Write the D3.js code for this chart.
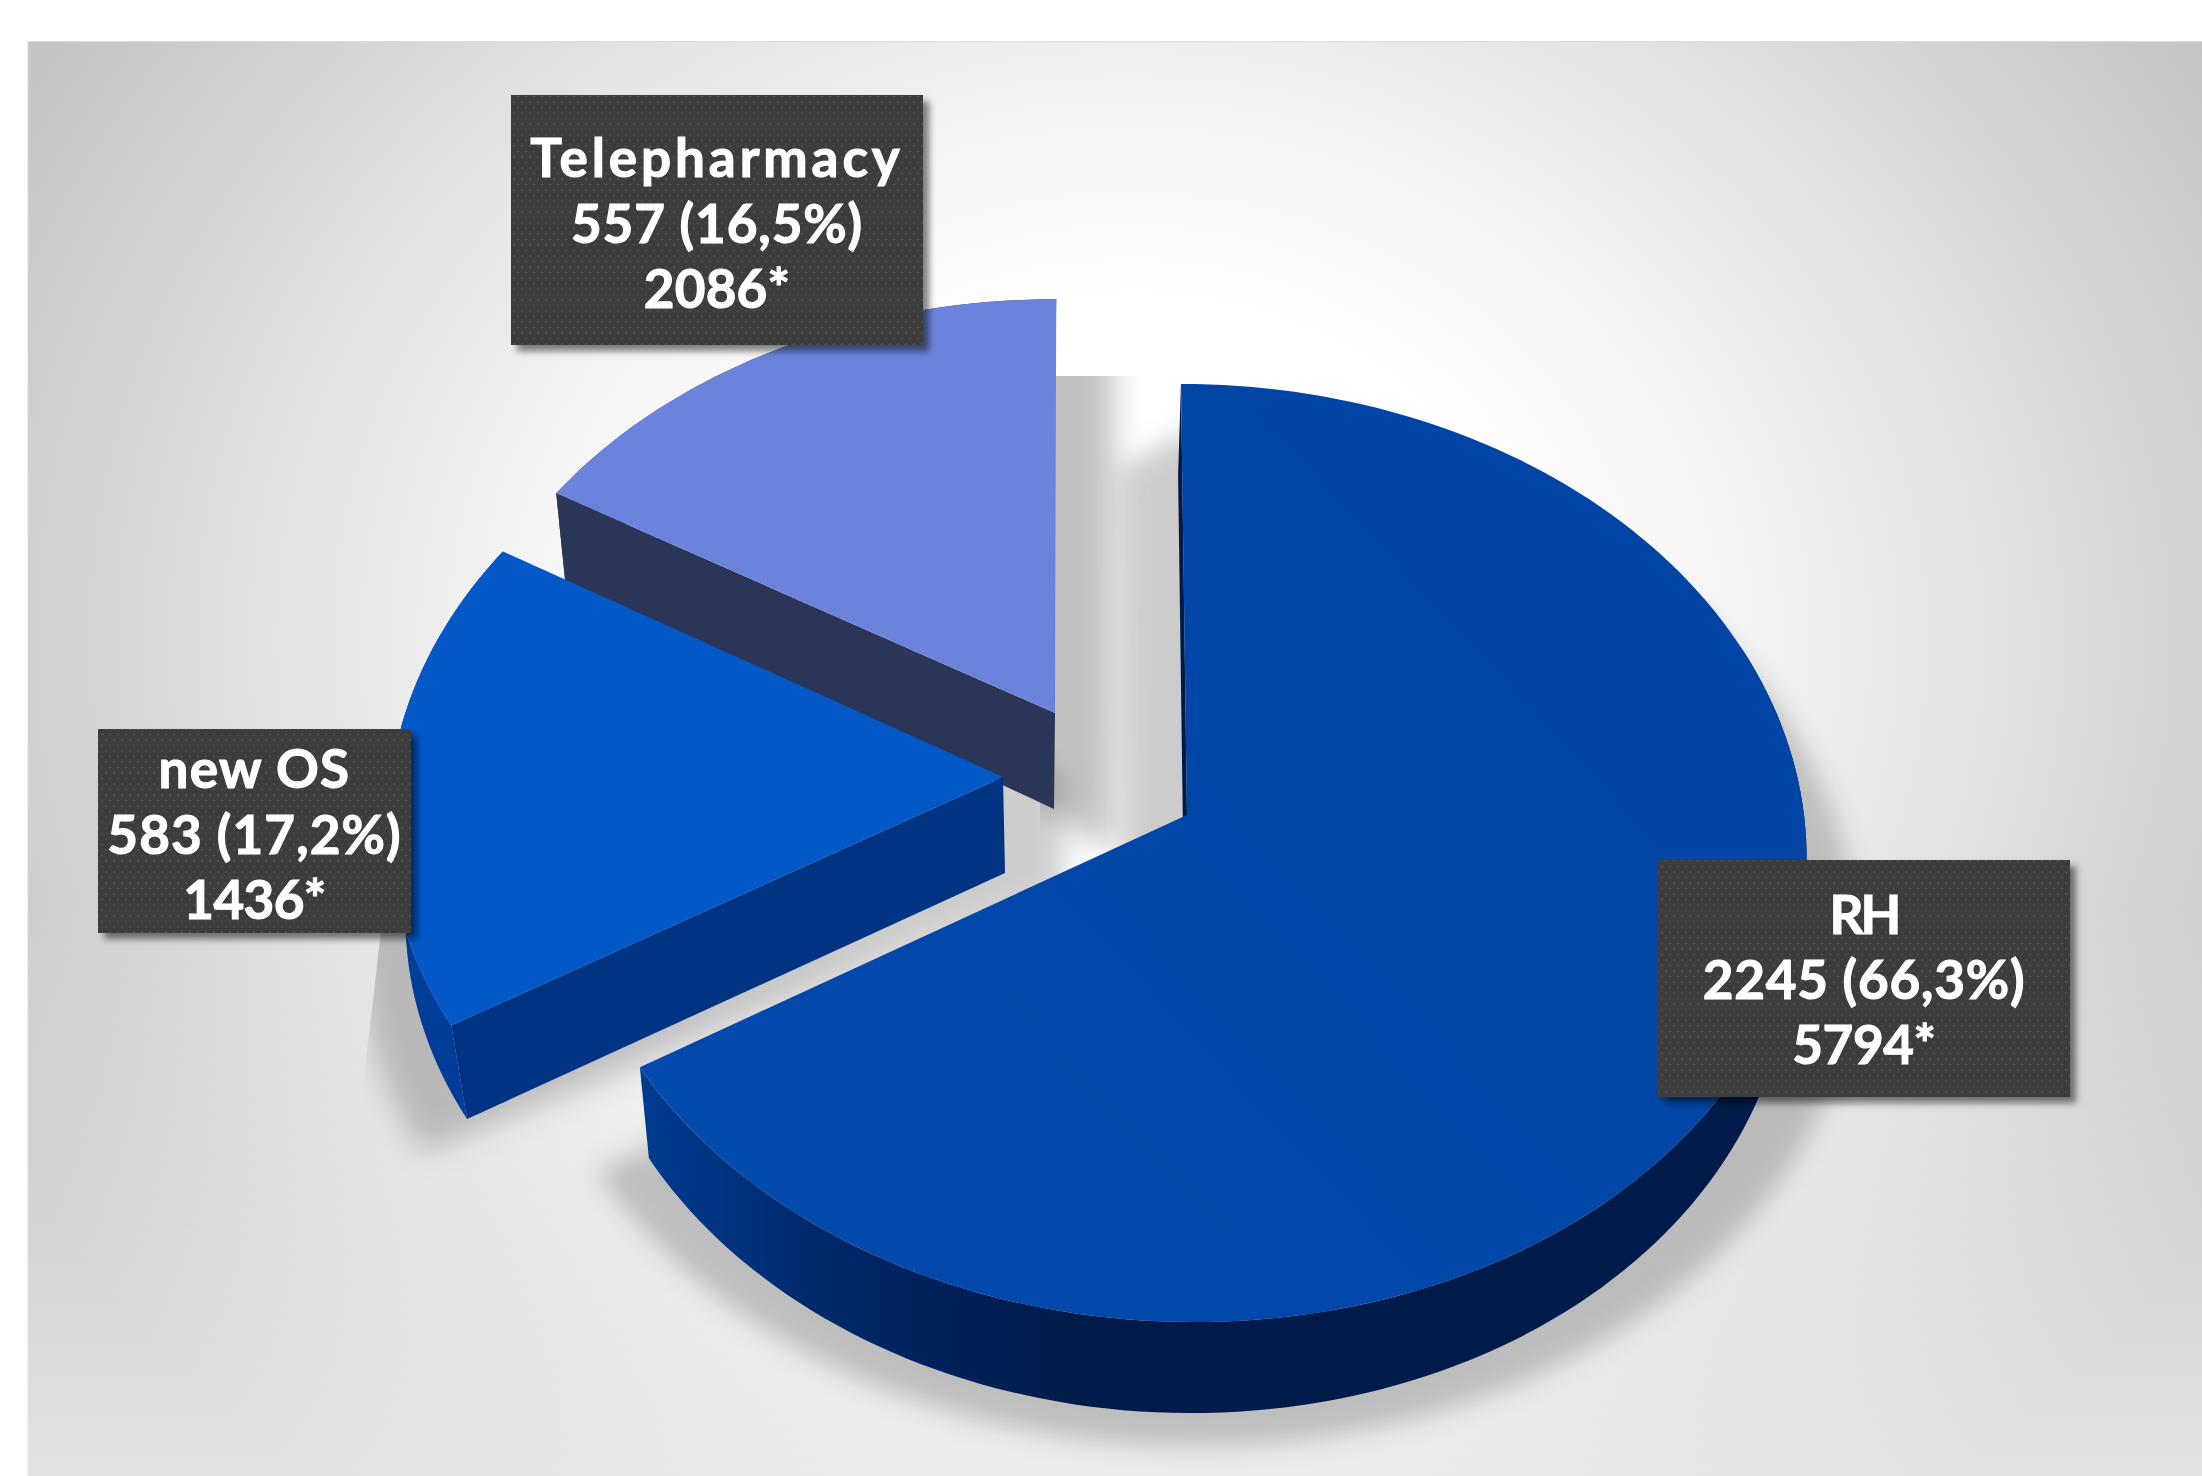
<!DOCTYPE html>
<html lang="en">
<head>
<meta charset="utf-8">
<title>Patients by service</title>
<script src="https://cdn.jsdelivr.net/npm/d3@7"></script>
<style>
  html, body { margin: 0; padding: 0; background: #fff; }
  svg { display: block; }
  .box-text { font-family: Lato, "Open Sans", sans-serif; font-weight: 700; font-size: 53px; fill: #fff; stroke: #fff; stroke-width: 1.1px; text-anchor: middle; }
</style>
</head>
<body>
<svg id="chart" width="2202" height="1476"></svg>
<script>
// Chart values
const categories = ["RH", "new OS", "Telepharmacy"];
const patients = [2245, 583, 557];
const shares = ["66,3%", "17,2%", "16,5%"];
const starred = [5794, 1436, 2086];

// Slice colours: top face, cut wall, outer rim
const topColors = ["url(#rhTop)", "#0358c8", "#6b83da"];
const wallColors = ["#001a48", "#003382", "#2b3558"];
const rimColors = ["url(#rhRim)", "#003d98", "#2b3558"];

// Tilted-disc projection shared by all slices
const WIDTH = 2202, HEIGHT = 1476;
const perspective = 0.081;
const discX = d3.scaleLinear().domain([-1, 1]).range([-617, 617]);
const discY = d3.scaleLinear().domain([-1, 1]).range([466, -466]);

// Where each exploded slice sits, and how its lower plane is offset
const placement = [
  { ax: 1187, ay: 815, kx: 1,     ky: 1,     shear: 0.014,  sx: 0.978, sy: 1,     ox: -3, dep: 91 },
  { ax: 1003, ay: 777, kx: 0.992, ky: 0.985, shear: -0.022, sx: 0.975, sy: 0.99,  ox: 2,  dep: 96 },
  { ax: 1055, ay: 713, kx: 0.981, ky: 0.96,  shear: -0.003, sx: 0.98,  sy: 1.036, ox: -1, dep: 96 }
];

// Soft shadows cast by the slices
const shadowPlacement = [
  { sx: 1.08, sy: 1.08, ox: 0,   dep: 84,  tip: [-62, 30], lead: [-58, 35], crest: null,       opacity: 0.2,  blur: 13, clip: null },
  { sx: 1.0,  sy: 1.0,  ox: -28, dep: 126, tip: [88, -10], lead: null,      crest: [88, -130], opacity: 0.2,  blur: 15, clip: "clipOs" },
  { sx: 1.0,  sy: 1.0,  ox: 58,  dep: 30,  tip: [0, 110],  lead: null,      crest: null,       opacity: 0.24, blur: 15, clip: "clipTele" }
];

// Label boxes
const boxes = [
  { x: 1658, y: 860, w: 412, h: 237, baselines: [934, 999, 1064], spacing: [-3, 0.8, -0.4] },
  { x: 98,   y: 729, w: 313, h: 204, baselines: [788, 854, 919], spacing: [1.3, 1.1, -0.6] },
  { x: 511,  y: 95,  w: 412, h: 250, baselines: [177, 243, 308], spacing: [3.9, 0.9, 0.2] }
];

const svg = d3.select("#chart");
const defs = svg.append("defs");

// Background: pale centre fading to grey at the corners
const bg = defs.append("radialGradient").attr("id", "bg").attr("gradientUnits", "userSpaceOnUse")
  .attr("cx", 0).attr("cy", 0).attr("r", 1)
  .attr("gradientTransform", "translate(1130 640) scale(1274 1100)");
[[0.34, "#ffffff"], [0.52, "#f4f4f4"], [0.72, "#e4e4e4"], [0.95, "#d0d0d0"], [1.1, "#c4c4c4"]]
  .forEach(([o, c]) => bg.append("stop").attr("offset", o / 1.1).attr("stop-color", c));

// The lower part of the panel lifts towards white
const lift = defs.append("linearGradient").attr("id", "lift").attr("gradientUnits", "userSpaceOnUse")
  .attr("x1", 0).attr("y1", 900).attr("x2", 0).attr("y2", HEIGHT);
lift.append("stop").attr("offset", 0).attr("stop-color", "#fff").attr("stop-opacity", 0);
lift.append("stop").attr("offset", 1).attr("stop-color", "#fff").attr("stop-opacity", 0.5);

const rhTop = defs.append("linearGradient").attr("id", "rhTop").attr("gradientUnits", "userSpaceOnUse")
  .attr("x1", 640).attr("y1", 1300).attr("x2", 1500).attr("y2", 500);
rhTop.append("stop").attr("offset", 0).attr("stop-color", "#034aad");
rhTop.append("stop").attr("offset", 1).attr("stop-color", "#0045a5");

const rhRim = defs.append("linearGradient").attr("id", "rhRim").attr("gradientUnits", "userSpaceOnUse")
  .attr("x1", 640).attr("y1", 0).attr("x2", 1070).attr("y2", 0);
[[0, "#003c92"], [0.4, "#00296c"], [1, "#001b49"]]
  .forEach(([o, c]) => rhRim.append("stop").attr("offset", o).attr("stop-color", c));

shadowPlacement.forEach((s, i) => {
  defs.append("filter").attr("id", "blur" + i).attr("filterUnits", "userSpaceOnUse")
    .attr("x", 0).attr("y", 0).attr("width", WIDTH).attr("height", HEIGHT)
    .append("feGaussianBlur").attr("stdDeviation", s.blur);
});

defs.append("clipPath").attr("id", "clipTele").append("rect")
  .attr("x", 1040).attr("y", 376).attr("width", 300).attr("height", 700);
defs.append("clipPath").attr("id", "clipOs").append("path")
  .attr("d", "M387 880 L352 1180 L1200 1180 L1200 700 L600 700 Z");

const boxShadow = defs.append("filter").attr("id", "boxShadow")
  .attr("x", "-5%").attr("y", "-5%").attr("width", "112%").attr("height", "112%");
boxShadow.append("feGaussianBlur").attr("stdDeviation", 3.5);

const dots = defs.append("pattern").attr("id", "dots").attr("patternUnits", "userSpaceOnUse")
  .attr("width", 8).attr("height", 11);
dots.append("rect").attr("width", 8).attr("height", 11).attr("fill", "#3c3c3c");
dots.append("circle").attr("cx", 2).attr("cy", 3).attr("r", 1.1).attr("fill", "#4f4f4f");
dots.append("circle").attr("cx", 6).attr("cy", 8.5).attr("r", 1.1).attr("fill", "#4f4f4f");

// Background panel
svg.append("rect").attr("x", 28).attr("y", 41.5).attr("width", WIDTH).attr("height", HEIGHT)
  .attr("fill", "url(#bg)").attr("stroke", "#dcdcdc").attr("stroke-width", 1);
svg.append("rect").attr("x", 28).attr("y", 900).attr("width", WIDTH).attr("height", HEIGHT - 900)
  .attr("fill", "url(#lift)");

// Slices come from the pie layout
const arcs = d3.pie().sort(null).value(d => d)(patients);

function onDisc(p, theta) {
  const u = Math.sin(theta), v = Math.cos(theta);
  const k = 1 / (1 + perspective * v);
  const dy = discY(v) * k * p.ky;
  return [discX(u) * k * p.kx + p.shear * dy, dy];
}
const upper = (p, d) => [p.ax + d[0], p.ay + d[1]];
const lower = (p, d, q = p) => [p.ax + d[0] * q.sx + q.ox, p.ay + d[1] * q.sy + q.dep];

function sweep(from, to) {
  const steps = Math.max(4, Math.ceil(Math.abs(to - from) * 40));
  return d3.range(steps + 1).map(i => from + (to - from) * i / steps);
}
const line = d3.line();
const closed = pts => line(pts) + "Z";

// Cast shadows
const shadowLayer = svg.append("g");
arcs.forEach((a, i) => {
  const p = placement[i], s = shadowPlacement[i];
  const rim = sweep(a.startAngle, a.endAngle).map(t => lower(p, onDisc(p, t), s));
  const apex = lower(p, [0, 0], s);
  const outline = [[apex[0] + s.tip[0], apex[1] + s.tip[1]]];
  if (s.lead) outline.push([rim[0][0] + s.lead[0], rim[0][1] + s.lead[1]]);
  outline.push(...rim);
  if (s.crest) outline.push([apex[0] + s.crest[0], apex[1] + s.crest[1]]);
  const group = shadowLayer.append("g");
  if (s.clip) group.attr("clip-path", `url(#${s.clip})`);
  group.append("path").attr("d", closed(outline))
    .attr("fill", "#000").attr("fill-opacity", s.opacity).attr("filter", `url(#blur${i})`);
});

// Slices, far one first so nearer faces overlap it
[0, 2, 1].forEach(i => {
  const a = arcs[i], p = placement[i];
  const g = svg.append("g").attr("class", "slice").datum(categories[i]);
  const apexTop = upper(p, [0, 0]), apexLow = lower(p, [0, 0]);

  if (i === 0) {
    // Dark sliver of the wall along the upright cut
    const d0 = onDisc(p, a.startAngle);
    g.append("path").attr("fill", wallColors[i])
      .attr("d", closed([upper(p, d0), apexTop, apexLow, lower(p, d0)]));
  }
  const arcAngles = i === 0 ? sweep(a.startAngle + 1.2, a.endAngle) : sweep(a.startAngle, a.endAngle);
  const outerTop = arcAngles.map(t => upper(p, onDisc(p, t)));
  const outerLow = arcAngles.map(t => lower(p, onDisc(p, t)));
  g.append("path").attr("fill", rimColors[i]).attr("d", closed([...outerTop, ...outerLow.reverse()]));

  if (i !== 0) {
    const dc = onDisc(p, a.startAngle);
    g.append("path").attr("fill", wallColors[i])
      .attr("d", closed([upper(p, dc), apexTop, apexLow, lower(p, dc)]));
  }
  const face = sweep(a.startAngle, a.endAngle).map(t => upper(p, onDisc(p, t)));
  g.append("path").attr("fill", topColors[i]).attr("d", closed([apexTop, ...face]));
});

// Label boxes
const boxGroups = svg.selectAll("g.box").data(categories).join("g").attr("class", "box");
boxGroups.append("rect")
  .attr("x", (d, i) => boxes[i].x + 6).attr("y", (d, i) => boxes[i].y + 6)
  .attr("width", (d, i) => boxes[i].w).attr("height", (d, i) => boxes[i].h)
  .attr("fill", "#000").attr("fill-opacity", 0.5).attr("filter", "url(#boxShadow)");
boxGroups.append("rect")
  .attr("x", (d, i) => boxes[i].x).attr("y", (d, i) => boxes[i].y)
  .attr("width", (d, i) => boxes[i].w).attr("height", (d, i) => boxes[i].h)
  .attr("fill", "url(#dots)");
boxGroups.each(function (name, i) {
  const b = boxes[i];
  const lines = [name, `${patients[i]} (${shares[i]})`, `${starred[i]}*`];
  d3.select(this).selectAll("text").data(lines).join("text")
    .attr("class", "box-text")
    .attr("x", b.x + b.w / 2)
    .attr("y", (d, j) => b.baselines[j])
    .attr("letter-spacing", (d, j) => b.spacing[j])
    .text(d => d);
});
</script>
</body>
</html>
